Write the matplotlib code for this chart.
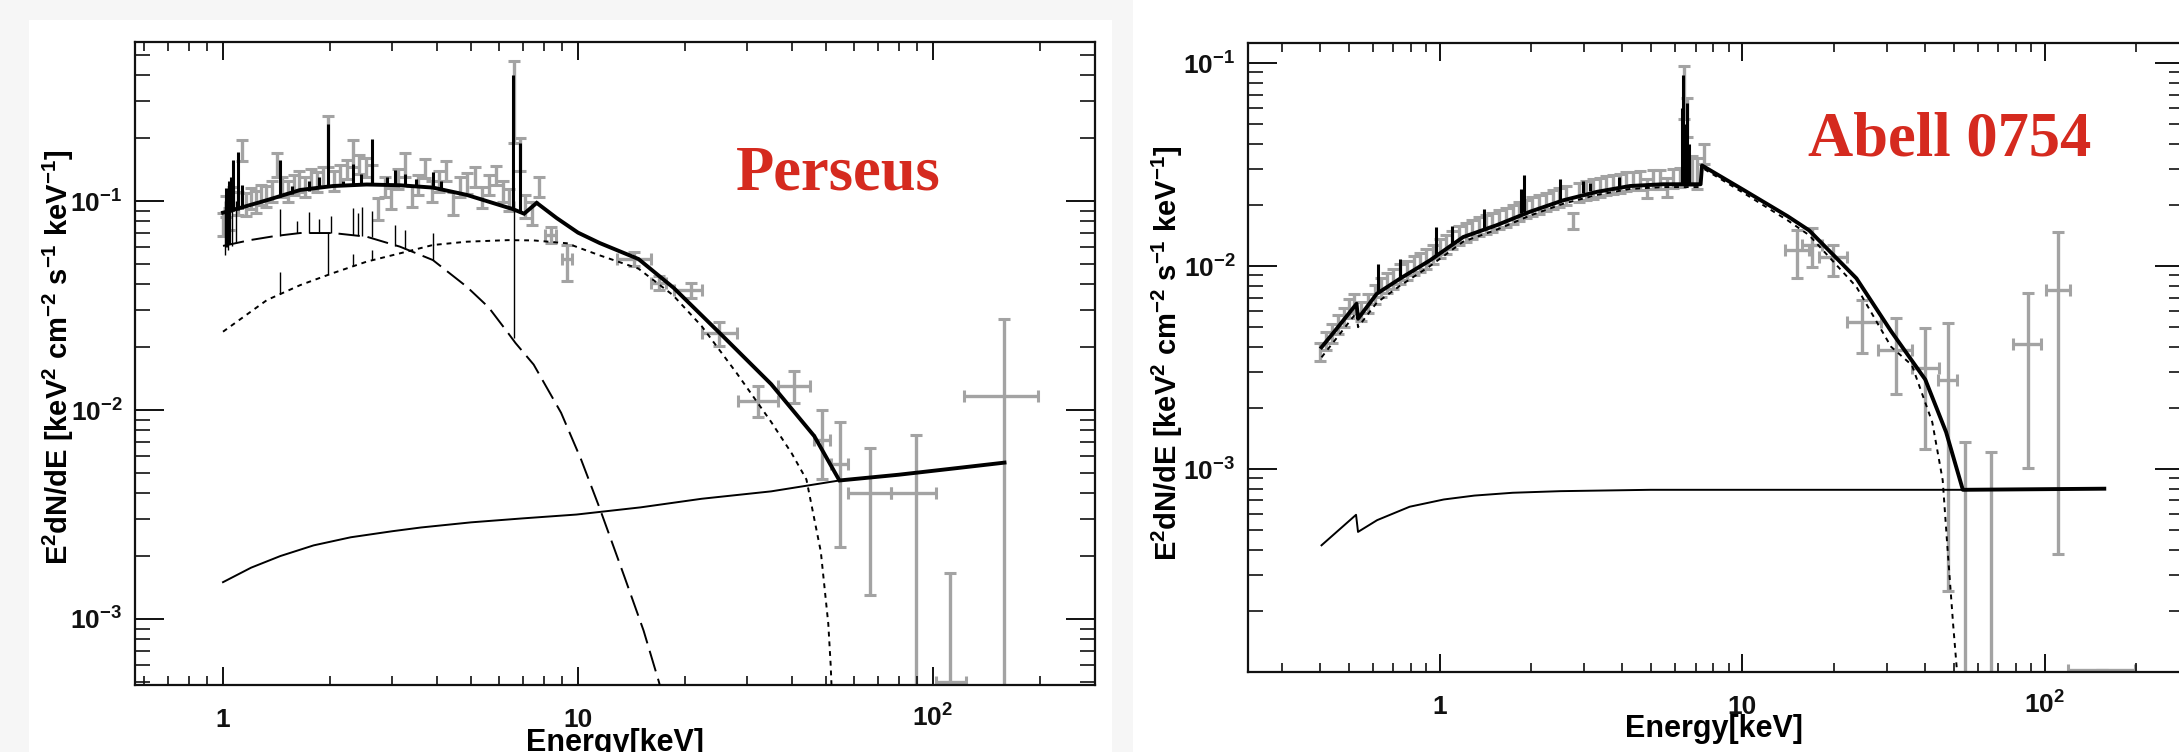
import matplotlib
matplotlib.use('Agg')
import matplotlib.pyplot as plt
from matplotlib.ticker import LogLocator, NullFormatter
from matplotlib.patches import Rectangle

plt.rcParams['font.family'] = ['Liberation Sans', 'DejaVu Sans']
plt.rcParams['mathtext.default'] = 'regular'

W, H = 2179, 752

# ------------------------- Perseus -------------------------
P_TOT_E = [1.00, 1.10, 1.33, 1.65, 2.04, 2.54, 3.15, 3.90, 4.86, 6.35, 6.50, 7.05, 7.65, 8.7,
           10.0, 11.5, 14.8, 18.6, 25.5, 35.0, 46.3, 54.5, 80.0, 120.0, 159.0]
P_TOT_F = [0.088, 0.092, 0.101, 0.113, 0.118, 0.120, 0.119, 0.116, 0.107, 0.093, 0.092, 0.087, 0.098, 0.083,
           0.0706, 0.063, 0.0528, 0.0384, 0.0227, 0.0133, 0.0075, 0.0046, 0.0049, 0.0053, 0.0056]
P_TOT_LINE_E = [1.02, 1.04, 1.05, 1.07, 1.10, 1.13, 1.45, 1.56, 1.75, 1.86, 1.97, 2.18, 2.33, 2.45, 2.62,
                2.90, 3.05, 3.25, 3.50, 3.90, 4.10, 6.58, 6.86]
P_TOT_LINE_BASE = [0.060, 0.062, 0.089, 0.090, 0.091, 0.092, 0.105, 0.108, 0.112, 0.115, 0.117, 0.118,
                   0.119, 0.120, 0.120, 0.119, 0.119, 0.119, 0.118, 0.116, 0.114, 0.093, 0.090]
P_TOT_LINE_PEAK = [0.115, 0.125, 0.130, 0.157, 0.172, 0.120, 0.157, 0.118, 0.125, 0.130, 0.235, 0.125,
                   0.151, 0.135, 0.199, 0.130, 0.141, 0.135, 0.128, 0.137, 0.125, 0.40, 0.19]

P_PL_E = [1.0, 1.2, 1.45, 1.8, 2.29, 3.0, 3.61, 5.0, 7.0, 9.9, 15.0, 22.3, 35.0, 54.5]
P_PL_F = [0.00150, 0.00176, 0.0020, 0.00225, 0.00246, 0.00263, 0.00274, 0.00290, 0.00303, 0.00316,
          0.00342, 0.00376, 0.00408, 0.00460]

P_COOL_E = [1.0, 1.19, 1.40, 1.65, 2.04, 2.54, 3.15, 3.9, 4.86, 5.6, 6.29, 6.67, 7.5, 8.96, 10.2,
            11.5, 13.5, 15.3, 16.9, 17.5]
P_COOL_F = [0.061, 0.065, 0.068, 0.0703, 0.0703, 0.0675, 0.0605, 0.0522, 0.0389, 0.031, 0.0239, 0.0209,
            0.0165, 0.0097, 0.0058, 0.0034, 0.0016, 0.00088, 0.0005, 0.0004]
P_COOL_LINE_E = [1.01, 1.03, 1.06, 1.09, 1.45, 1.62, 1.75, 1.86, 2.01, 2.33, 2.40, 2.46, 2.62, 3.05,
                 3.25, 3.90, 6.60]
P_COOL_LINE_BASE = [0.055, 0.058, 0.061, 0.063, 0.068, 0.070, 0.0703, 0.0703, 0.0703, 0.069, 0.0685,
                    0.068, 0.067, 0.061, 0.059, 0.0522, 0.022]
P_COOL_LINE_PEAK = [0.10, 0.095, 0.11, 0.10, 0.092, 0.080, 0.089, 0.082, 0.085, 0.093, 0.088, 0.094,
                    0.090, 0.077, 0.073, 0.062, 0.10]

P_HOT_E = [1.0, 1.33, 1.65, 2.04, 2.54, 3.15, 3.9, 4.86, 6.35, 7.5, 9.3, 11.5, 14.8, 18.5, 22.3, 28.0,
           35.0, 40.0, 44.0, 48.3, 50.7, 51.5, 52.0]
P_HOT_F = [0.0237, 0.0336, 0.0396, 0.0452, 0.0513, 0.0562, 0.0616, 0.0639, 0.065, 0.0648, 0.0628,
           0.0550, 0.0475, 0.0355, 0.0252, 0.0150, 0.00877, 0.0062, 0.00465, 0.0021, 0.00095, 0.0006, 0.0004]
P_HOT_LINE_E = [1.45, 1.97, 2.33, 2.62, 3.90]
P_HOT_LINE_BASE = [0.036, 0.045, 0.049, 0.052, 0.0616]
P_HOT_LINE_PEAK = [0.046, 0.070, 0.056, 0.058, 0.070]

P_DAT_E = [1.00, 1.02, 1.04, 1.07, 1.10, 1.13, 1.16, 1.20, 1.24, 1.28,
           1.32, 1.37, 1.42, 1.47, 1.52, 1.58, 1.64, 1.70, 1.77, 1.84,
           1.91, 1.98, 2.06, 2.14, 2.23, 2.32, 2.42, 2.52, 2.63, 2.74,
           2.86, 2.98, 3.11, 3.25, 3.40, 3.55, 3.71, 3.88, 4.06, 4.25,
           4.45, 4.66, 4.88, 5.11, 5.35, 5.60, 5.87, 6.15, 6.40, 6.62,
           6.85, 7.10, 7.40, 7.75]
P_DAT_F = [0.078, 0.095, 0.083, 0.105, 0.098, 0.175, 0.097, 0.104, 0.100, 0.108,
           0.106, 0.112, 0.150, 0.118, 0.112, 0.120, 0.125, 0.118, 0.128, 0.124,
           0.132, 0.200, 0.126, 0.134, 0.143, 0.170, 0.150, 0.145, 0.135, 0.092,
           0.118, 0.104, 0.128, 0.150, 0.106, 0.120, 0.144, 0.112, 0.125, 0.140,
           0.098, 0.118, 0.122, 0.131, 0.105, 0.120, 0.133, 0.112, 0.102, 0.330,
           0.170, 0.095, 0.088, 0.117]
P_DAT_ERR = [0.010, 0.011, 0.010, 0.012, 0.012, 0.020, 0.012, 0.012, 0.012, 0.012,
             0.012, 0.013, 0.020, 0.013, 0.013, 0.013, 0.014, 0.013, 0.014, 0.014,
             0.014, 0.055, 0.014, 0.014, 0.015, 0.025, 0.016, 0.015, 0.014, 0.011,
             0.013, 0.012, 0.014, 0.020, 0.012, 0.013, 0.015, 0.013, 0.014, 0.015,
             0.012, 0.013, 0.014, 0.014, 0.012, 0.013, 0.014, 0.013, 0.012, 0.140,
             0.030, 0.012, 0.011, 0.013]

P_HI_E = [8.38, 9.3, 14.4, 16.9, 20.8, 24.9, 32.1, 40.7, 48.7, 54.6, 66.5, 89.3, 111.8, 159.0]
P_HI_F = [0.0688, 0.0528, 0.0528, 0.0406, 0.0375, 0.0233, 0.0111, 0.0130, 0.00716, 0.0055, 0.0040,
          0.0040, 0.0005, 0.0117]
P_HI_YLO = [0.006, 0.0112, 0.004, 0.003, 0.003, 0.003, 0.0018, 0.0022, 0.0025, 0.0033, 0.0027, 0.0039,
            0.00049, 0.0116]
P_HI_YHI = [0.006, 0.0091, 0.004, 0.003, 0.003, 0.003, 0.0019, 0.0023, 0.0028, 0.0033, 0.0026, 0.0036,
            0.00116, 0.0156]
P_HI_XLO = [0.3, 0.3, 1.5, 0.8, 2.2, 2.6, 3.9, 4.0, 2.6, 3.0, 8.7, 13.3, 10.0, 37.0]
P_HI_XHI = [0.3, 0.3, 1.7, 0.8, 1.5, 3.1, 4.6, 4.3, 2.6, 3.0, 9.5, 12.4, 12.0, 38.0]

# ------------------------- Abell 0754 -------------------------
A_TOT_E = [0.406, 0.45, 0.530, 0.536, 0.618, 0.738, 0.927, 1.194, 1.54, 1.98, 2.56, 3.30, 4.25, 5.47,
           6.2, 6.7, 7.27, 7.35, 10.04, 14.1, 16.6, 23.8, 31.0, 40.2, 47.1, 53.5, 157.0]
A_TOT_F = [0.00398, 0.0048, 0.00652, 0.0055, 0.0073, 0.00867, 0.01067, 0.0139, 0.0159, 0.0185, 0.0211,
           0.0232, 0.0248, 0.0253, 0.0253, 0.0253, 0.0253, 0.0313, 0.0238, 0.0176, 0.0150, 0.0087,
           0.00477, 0.00276, 0.00152, 0.00079, 0.00080]
A_TOT_LINE_E = [0.622, 0.738, 0.97, 1.10, 1.40, 1.86, 1.90, 2.49, 2.96, 3.13, 3.90, 6.30, 6.35, 6.45,
                6.57, 6.65]
A_TOT_LINE_BASE = [0.0074, 0.0087, 0.0112, 0.0127, 0.0153, 0.0182, 0.0184, 0.0208, 0.0228, 0.0233,
                   0.0245, 0.0253, 0.0253, 0.0253, 0.0253, 0.0253]
A_TOT_LINE_PEAK = [0.0102, 0.0108, 0.0156, 0.0158, 0.0192, 0.024, 0.028, 0.027, 0.0262, 0.0258,
                   0.0275, 0.060, 0.0874, 0.050, 0.0633, 0.040]

A_PL_E = [0.406, 0.528, 0.536, 0.62, 0.794, 1.03, 1.30, 1.74, 2.5, 4.96, 10.0, 20.0, 53.5]
A_PL_F = [0.000421, 0.000595, 0.00049, 0.00056, 0.000652, 0.000708, 0.00074, 0.000764, 0.000778,
          0.00079, 0.00079, 0.00079, 0.00079]

A_HOT_E = [0.406, 0.53, 0.536, 0.618, 0.738, 0.927, 1.194, 1.54, 1.98, 2.56, 3.30, 4.25, 5.47, 7.27,
           7.35, 10.04, 14.1, 16.6, 23.8, 31.0, 36.3, 42.4, 45.9, 47.7, 49.7, 51.2]
A_HOT_F = [0.00355, 0.0059, 0.0050, 0.0066, 0.0080, 0.0100, 0.0132, 0.0151, 0.0177, 0.0203, 0.0224,
           0.0240, 0.0245, 0.0245, 0.0305, 0.0230, 0.0168, 0.0142, 0.0079, 0.0040, 0.00325, 0.0017,
           0.00088, 0.00039, 0.000171, 0.0001]

A_DAT_E = [0.40, 0.42, 0.44, 0.46, 0.48, 0.50, 0.52, 0.55, 0.58, 0.61,
           0.64, 0.67, 0.70, 0.74, 0.78, 0.82, 0.86, 0.90, 0.95, 1.00,
           1.05, 1.10, 1.16, 1.22, 1.28, 1.35, 1.42, 1.49, 1.57, 1.65,
           1.74, 1.83, 1.92, 2.02, 2.13, 2.24, 2.36, 2.48, 2.61, 2.75,
           2.89, 3.04, 3.20, 3.37, 3.55, 3.73, 3.93, 4.13, 4.35, 4.58,
           4.82, 5.07, 5.34, 5.62, 5.91, 6.22, 6.40, 6.55, 6.80, 7.10,
           7.45]
A_DAT_F = [0.0038, 0.0043, 0.0047, 0.0052, 0.0056, 0.0062, 0.0066, 0.0060, 0.0066, 0.0073,
           0.0079, 0.0083, 0.0087, 0.0092, 0.0096, 0.0101, 0.0105, 0.0109, 0.0115, 0.0123,
           0.0129, 0.0135, 0.0142, 0.0147, 0.0152, 0.0157, 0.0161, 0.0165, 0.0170, 0.0175,
           0.0181, 0.0186, 0.0192, 0.0197, 0.0203, 0.0208, 0.0213, 0.0219, 0.0224, 0.0168,
           0.0232, 0.0236, 0.0241, 0.0245, 0.0250, 0.0253, 0.0257, 0.0262, 0.0264, 0.0266,
           0.0243, 0.0270, 0.0268, 0.0246, 0.0272, 0.0275, 0.075, 0.055, 0.030, 0.029,
           0.036]
A_DAT_ERR = [0.0004, 0.00045, 0.0005, 0.00055, 0.0006, 0.00065, 0.0007, 0.00065, 0.0007, 0.0008,
             0.00085, 0.0009, 0.00095, 0.001, 0.00105, 0.0011, 0.00115, 0.0012, 0.00125, 0.0013,
             0.0014, 0.0014, 0.0015, 0.0016, 0.0016, 0.0017, 0.0017, 0.0018, 0.0018, 0.0019,
             0.0019, 0.002, 0.002, 0.0021, 0.0022, 0.0022, 0.0023, 0.0023, 0.0024, 0.0015,
             0.0025, 0.0025, 0.0026, 0.0026, 0.0027, 0.0027, 0.0027, 0.0028, 0.0028, 0.0028,
             0.0026, 0.0029, 0.0029, 0.0026, 0.0029, 0.0029, 0.022, 0.012, 0.005, 0.005,
             0.004]

A_HI_E = [15.1, 16.95, 19.9, 24.8, 32.2, 40.2, 47.7, 54.5, 66.5, 87.6, 110.6, 154.0]
A_HI_F = [0.0120, 0.0127, 0.0111, 0.00532, 0.00384, 0.00316, 0.00276, 0.00008, 0.00008, 0.00415,
          0.0076, 0.000102]
A_HI_YLO = [0.0033, 0.0028, 0.0022, 0.0016, 0.0015, 0.0019, 0.00251, 0.00007, 0.00007, 0.00314,
            0.00722, 0.0]
A_HI_YHI = [0.0030, 0.0027, 0.0016, 0.0015, 0.0017, 0.0018, 0.0025, 0.00128, 0.00114, 0.00325,
            0.0071, 0.0]
A_HI_XLO = [1.3, 1.25, 2.0, 2.7, 4.2, 3.9, 3.4, 3.0, 7.0, 9.3, 9.7, 35.0]
A_HI_XHI = [1.45, 1.35, 2.2, 3.8, 4.1, 4.4, 3.6, 3.0, 7.0, 9.4, 10.3, 44.0]

X_TICKS = [1, 10, 100]
X_TICKLABELS = ['1', '10', r'$10^2$']
Y_TICKS = [1e-3, 1e-2, 1e-1]
Y_TICKLABELS = [r'$10^{-3}$', r'$10^{-2}$', r'$10^{-1}$']
YLABEL = r'E$^2$dN/dE [keV$^2$ cm$^{-2}$ s$^{-1}$ keV$^{-1}$]'
XLABEL = 'Energy[keV]'

# ------------------------- drawing -------------------------
GREY = '#a3a3a3'
RED = '#d52a1f'

fig = plt.figure(figsize=(W / 100, H / 100), dpi=100, facecolor='#f6f6f6')
fig.patches.append(Rectangle((29 / W, 0), (1112 - 29) / W, (H - 20) / H, transform=fig.transFigure,
                             facecolor='white', edgecolor='none', zorder=-5))
fig.patches.append(Rectangle((1133 / W, 0), (W - 1133) / W, 1.0, transform=fig.transFigure,
                             facecolor='white', edgecolor='none', zorder=-5))


def px_axes(l, t, r, b):
    return fig.add_axes([l / W, 1 - b / H, (r - l) / W, (b - t) / H])


def style(ax, xlim, ylim):
    ax.set_xscale('log')
    ax.set_yscale('log')
    ax.set_xlim(*xlim)
    ax.set_ylim(*ylim)
    ax.set_xticks(X_TICKS, X_TICKLABELS, fontsize=19, fontweight='bold')
    ax.set_yticks(Y_TICKS, Y_TICKLABELS, fontsize=19, fontweight='bold')
    ax.xaxis.set_minor_locator(LogLocator(base=10, subs=range(2, 10), numticks=50))
    ax.yaxis.set_minor_locator(LogLocator(base=10, subs=range(2, 10), numticks=50))
    ax.xaxis.set_minor_formatter(NullFormatter())
    ax.yaxis.set_minor_formatter(NullFormatter())
    ax.tick_params(axis='x', which='major', direction='in', length=13, width=1.4, top=True, pad=30,
                   colors='#111111')
    ax.tick_params(axis='x', which='minor', direction='in', length=6.5, width=1.2, top=True,
                   colors='#111111')
    ax.tick_params(axis='y', which='major', direction='in', length=21, width=1.4, right=True, pad=9,
                   colors='#111111')
    ax.tick_params(axis='y', which='minor', direction='in', length=11, width=1.2, right=True,
                   colors='#111111')
    for lab in ax.get_xticklabels():
        lab.set_verticalalignment('baseline')
    for s in ax.spines.values():
        s.set_linewidth(1.6)
        s.set_color('#111111')
    ax.set_facecolor('white')


def spikes(ax, e, base, peak, lw):
    ax.vlines(e, base, peak, colors='black', linewidth=lw, zorder=4)


EB = dict(fmt='none', ecolor=GREY, elinewidth=2.4, capsize=4, capthick=2.2, zorder=1)

# ---- Perseus panel ----
ax1 = px_axes(135, 42, 1095, 685)
style(ax1, (0.565, 286), (4.83e-4, 0.577))
ax1.errorbar(P_DAT_E, P_DAT_F, yerr=P_DAT_ERR, **EB)
ax1.errorbar(P_HI_E, P_HI_F, yerr=[P_HI_YLO, P_HI_YHI], xerr=[P_HI_XLO, P_HI_XHI], **EB)
ax1.plot(P_HOT_E, P_HOT_F, color='black', lw=1.4, ls=(0, (2.5, 2.5)), zorder=3)
spikes(ax1, P_HOT_LINE_E, P_HOT_LINE_BASE, P_HOT_LINE_PEAK, 1.0)
ax1.plot(P_COOL_E, P_COOL_F, color='black', lw=1.4, ls=(0, (11, 4)), zorder=3)
spikes(ax1, P_COOL_LINE_E, P_COOL_LINE_BASE, P_COOL_LINE_PEAK, 1.0)
ax1.plot(P_PL_E, P_PL_F, color='black', lw=1.4, zorder=3)
ax1.plot(P_TOT_E, P_TOT_F, color='black', lw=2.8, zorder=4, solid_joinstyle='miter')
spikes(ax1, P_TOT_LINE_E, P_TOT_LINE_BASE, P_TOT_LINE_PEAK, 2.2)
fig.text(838 / W, 1 - 189.5 / H, 'Perseus', color=RED, fontsize=45, fontweight='bold',
         family=['Liberation Serif', 'DejaVu Serif'], ha='center', va='baseline')

# ---- Abell panel ----
ax2 = px_axes(1248, 43, 2184, 672)
style(ax2, (0.232, 288), (1.0e-4, 0.1256))
ax2.errorbar(A_DAT_E, A_DAT_F, yerr=A_DAT_ERR, **EB)
ax2.errorbar(A_HI_E, A_HI_F, yerr=[A_HI_YLO, A_HI_YHI], xerr=[A_HI_XLO, A_HI_XHI], **EB)
ax2.plot(A_HOT_E, A_HOT_F, color='black', lw=1.4, ls=(0, (2.5, 2.5)), zorder=3)
ax2.plot(A_PL_E, A_PL_F, color='black', lw=1.4, zorder=3)
ax2.plot(A_TOT_E, A_TOT_F, color='black', lw=2.8, zorder=4)
spikes(ax2, A_TOT_LINE_E, A_TOT_LINE_BASE, A_TOT_LINE_PEAK, 2.2)
fig.text(1950 / W, 1 - 156 / H, 'Abell 0754', color=RED, fontsize=45, fontweight='bold',
         family=['Liberation Serif', 'DejaVu Serif'], ha='center', va='baseline')

# ---- axis titles ----
fig.text(58 / W, 1 - 357 / H, YLABEL, rotation=90, ha='center', va='center', fontsize=21,
         fontweight='bold')
fig.text(1167 / W, 1 - 353 / H, YLABEL, rotation=90, ha='center', va='center', fontsize=21,
         fontweight='bold')
fig.text(615 / W, 1 - 751 / H, XLABEL, ha='center', va='baseline', fontsize=22, fontweight='bold')
fig.text(1714 / W, 1 - 737 / H, XLABEL, ha='center', va='baseline', fontsize=22, fontweight='bold')

fig.savefig('out.png', dpi=100, facecolor=fig.get_facecolor())
